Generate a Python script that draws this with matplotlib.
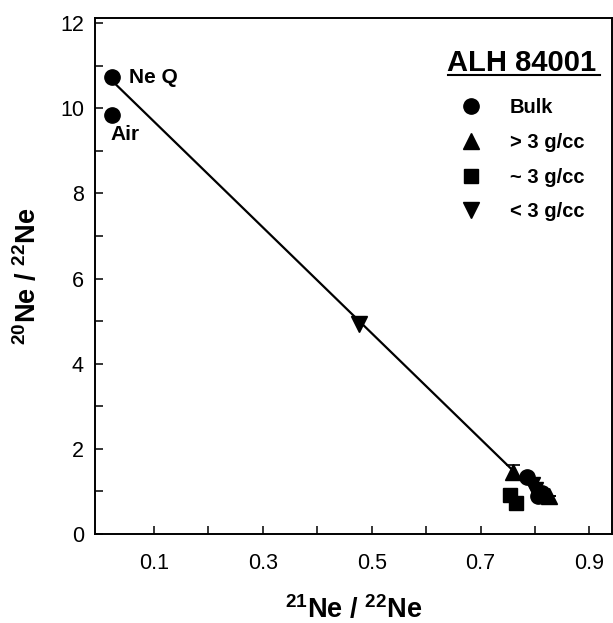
import matplotlib
matplotlib.use("Agg")
import matplotlib.pyplot as plt
from matplotlib.lines import Line2D

plt.rcParams['font.family'] = ['Liberation Sans', 'DejaVu Sans']
plt.rcParams['mathtext.fontset'] = 'custom'
plt.rcParams['mathtext.bf'] = 'Liberation Sans:bold'
plt.rcParams['mathtext.rm'] = 'Liberation Sans'
plt.rcParams['mathtext.default'] = 'bf'

# end members
ref_names = ['Ne Q', 'Air']
ref_x = [0.023, 0.023]
ref_y = [10.73, 9.84]

# sample groups (21Ne/22Ne, 20Ne/22Ne)
bulk_x = [0.786, 0.812, 0.805]
bulk_y = [1.33, 0.95, 0.88]
gt3_x = [0.760, 0.826]
gt3_y = [1.45, 0.88]
gt3_err = [0.18, 0.0]
eq3_x = [0.754, 0.766]
eq3_y = [0.91, 0.72]
lt3_x = [0.477, 0.795, 0.800]
lt3_y = [4.94, 1.15, 1.02]

# mixing line
fit_x = [0.023, 0.757]
fit_y = [10.65, 1.52]

fig = plt.figure(figsize=(6.13, 6.23), dpi=100)
ax = fig.add_axes([0.155, 0.143, 0.843, 0.828])

ms = 11
ax.plot(fit_x, fit_y, color='black', lw=1.6, zorder=2)
ax.plot(ref_x, ref_y, 'o', color='black', ms=ms, zorder=3)
ax.plot(bulk_x, bulk_y, 'o', color='black', ms=ms, zorder=3)
ax.errorbar(gt3_x, gt3_y, yerr=gt3_err, fmt='^', color='black', ms=ms,
            capsize=5, elinewidth=1.2, capthick=1.2, zorder=3)
ax.plot(eq3_x, eq3_y, 's', color='black', ms=ms - 1, zorder=3)
ax.plot(lt3_x, lt3_y, 'v', color='black', ms=ms, zorder=3)

ax.annotate(ref_names[0], (ref_x[0], ref_y[0]), xytext=(12, 0), textcoords='offset points',
            fontsize=15, fontweight='bold', va='center', ha='left')
ax.annotate(ref_names[1], (ref_x[1], ref_y[1]), xytext=(-1, -14), textcoords='offset points',
            fontsize=15, fontweight='bold', va='center', ha='left')

ax.set_xlim(-0.008, 0.941)
ax.set_ylim(0, 12.12)
ax.set_xticks([0.1, 0.3, 0.5, 0.7, 0.9])
ax.set_xticks([0.2, 0.4, 0.6, 0.8], minor=True)
ax.set_yticks([0, 2, 4, 6, 8, 10, 12])
ax.set_yticks([1, 3, 5, 7, 9, 11], minor=True)
ax.tick_params(which='both', direction='in', length=6, width=1.1, labelsize=15.5)
ax.tick_params(axis='x', pad=14)
ax.tick_params(axis='y', pad=8)
for s in ax.spines.values():
    s.set_linewidth(1.4)

ax.set_xlabel(r'$^{21}$Ne / $^{22}$Ne', fontsize=19.5, fontweight='bold', labelpad=15)
ax.set_ylabel(r'$^{20}$Ne / $^{22}$Ne', fontsize=19.5, fontweight='bold', labelpad=13)

# legend block
ax.text(0.826, 0.913, 'ALH 84001', transform=ax.transAxes, fontsize=21, fontweight='bold',
        ha='center', va='center')
ax.plot([0.683, 0.977], [0.889, 0.889], transform=ax.transAxes, color='black', lw=1.5,
        clip_on=False)

handles = [
    Line2D([], [], marker='o', ls='none', color='black', ms=ms, label='Bulk'),
    Line2D([], [], marker='^', ls='none', color='black', ms=ms, label='> 3 g/cc'),
    Line2D([], [], marker='s', ls='none', color='black', ms=ms - 1, label='~ 3 g/cc'),
    Line2D([], [], marker='v', ls='none', color='black', ms=ms, label='< 3 g/cc'),
]
leg = ax.legend(handles=handles, loc='upper left', bbox_to_anchor=(0.662, 0.872),
                frameon=False, prop={'size': 14.5, 'weight': 'bold'},
                handletextpad=0.9, labelspacing=0.78, borderpad=0.2)

fig.savefig('out.png', dpi=100)
